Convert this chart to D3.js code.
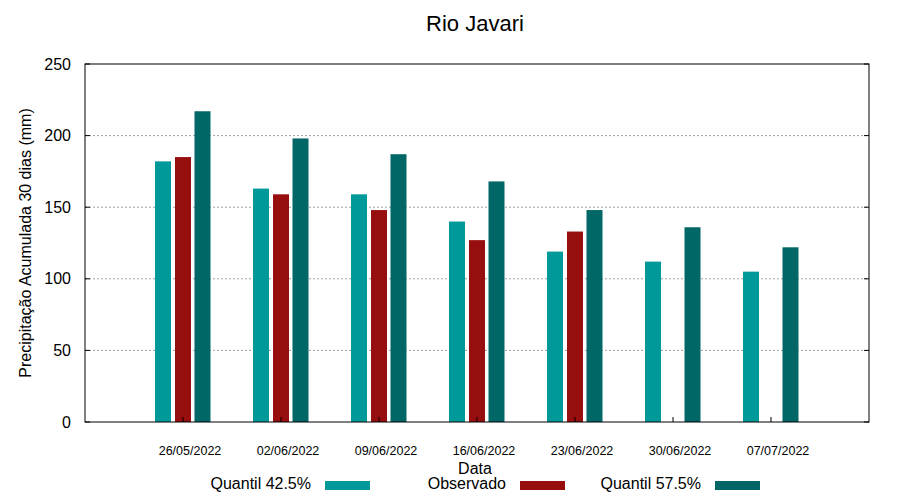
<!DOCTYPE html>
<html>
<head>
<meta charset="utf-8">
<script src="https://cdn.jsdelivr.net/npm/d3@7"></script>
<style>
  body { margin: 0; background: #fff; }
  text { font-family: "Liberation Sans", Arial, sans-serif; fill: #000; }
</style>
</head>
<body>
<div id="chart"></div>
<script>
var datas = ["26/05/2022", "02/06/2022", "09/06/2022", "16/06/2022", "23/06/2022", "30/06/2022", "07/07/2022"];
var quantil425 = [182, 163, 159, 140, 119, 112, 105];
var observado = [185, 159, 148, 127, 133, null, null];
var quantil575 = [217, 198, 187, 168, 148, 136, 122];
var yTicks = [0, 50, 100, 150, 200, 250];

var series = [
  { name: "Quantil 42.5%", values: quantil425, color: "#009999", off: -20 },
  { name: "Observado", values: observado, color: "#960e0e", off: 0 },
  { name: "Quantil 57.5%", values: quantil575, color: "#006666", off: 19.5 }
];

var w = 900, h = 500;
var plotL = 85, plotR = 869, plotT = 64, plotB = 422;

var svg = d3.select("#chart").append("svg")
  .attr("width", w).attr("height", h);

var x = d3.scaleLinear().domain([-1, datas.length]).range([plotL, plotR]);
var y = d3.scaleLinear().domain([0, 250]).range([plotB, plotT]);

// grid
svg.append("g").selectAll("line").data(yTicks.filter(function(d){ return d > 0 && d < 250; }))
  .enter().append("line")
  .attr("x1", plotL).attr("x2", plotR)
  .attr("y1", function(d){ return y(d); }).attr("y2", function(d){ return y(d); })
  .attr("stroke", "#a0a0a0").attr("stroke-width", 1)
  .attr("stroke-dasharray", "2,2");

// bars
var barW = 16;
series.forEach(function(s) {
  svg.append("g").selectAll("rect")
    .data(s.values.map(function(v, i){ return { v: v, i: i }; }).filter(function(d){ return d.v != null; }))
    .enter().append("rect")
    .attr("x", function(d){ return x(d.i) + s.off - barW / 2; })
    .attr("width", barW)
    .attr("y", function(d){ return y(d.v); })
    .attr("height", function(d){ return y(0) - y(d.v); })
    .attr("fill", s.color);
});

// x ticks (inward)
svg.append("g").selectAll("line").data(datas).enter().append("line")
  .attr("x1", function(d, i){ return x(i); }).attr("x2", function(d, i){ return x(i); })
  .attr("y1", plotB).attr("y2", plotB - 5)
  .attr("stroke", "#000");

// y ticks both sides (inward)
var yt = svg.append("g").selectAll("g").data(yTicks).enter().append("g");
yt.append("line").attr("x1", plotL).attr("x2", plotL + 5)
  .attr("y1", function(d){ return y(d); }).attr("y2", function(d){ return y(d); })
  .attr("stroke", "#000");
yt.append("line").attr("x1", plotR).attr("x2", plotR - 5)
  .attr("y1", function(d){ return y(d); }).attr("y2", function(d){ return y(d); })
  .attr("stroke", "#000");
yt.append("text").attr("x", 71).attr("y", function(d){ return y(d); })
  .attr("dy", "0.35em").attr("text-anchor", "end")
  .style("font-size", "16px").text(function(d){ return d; });

// border
svg.append("rect").attr("x", plotL).attr("y", plotT)
  .attr("width", plotR - plotL).attr("height", plotB - plotT)
  .attr("fill", "none").attr("stroke", "#000").attr("stroke-width", 1);

// x tick labels
svg.append("g").selectAll("text").data(datas).enter().append("text")
  .attr("x", function(d, i){ return x(i) + 7; })
  .attr("y", 455)
  .attr("text-anchor", "middle")
  .style("font-size", "12.5px")
  .text(function(d){ return d; });

// titles
svg.append("text").attr("x", 475).attr("y", 31).attr("text-anchor", "middle")
  .style("font-size", "22px").text("Rio Javari");
svg.append("text").attr("x", 475).attr("y", 474).attr("text-anchor", "middle")
  .style("font-size", "16px").text("Data");
svg.append("text")
  .attr("transform", "translate(31," + ((plotT + plotB) / 2) + ") rotate(-90)")
  .attr("text-anchor", "middle")
  .style("font-size", "16px").text("Precipitação Acumulada 30 dias (mm)");

// legend
var legX = [311, 506, 701];
series.forEach(function(s, i) {
  svg.append("text").attr("x", legX[i]).attr("y", 489).attr("text-anchor", "end")
    .style("font-size", "16px").text(s.name);
  svg.append("rect").attr("x", legX[i] + 14).attr("y", 481)
    .attr("width", 45).attr("height", 9).attr("fill", s.color);
});
</script>
</body>
</html>
